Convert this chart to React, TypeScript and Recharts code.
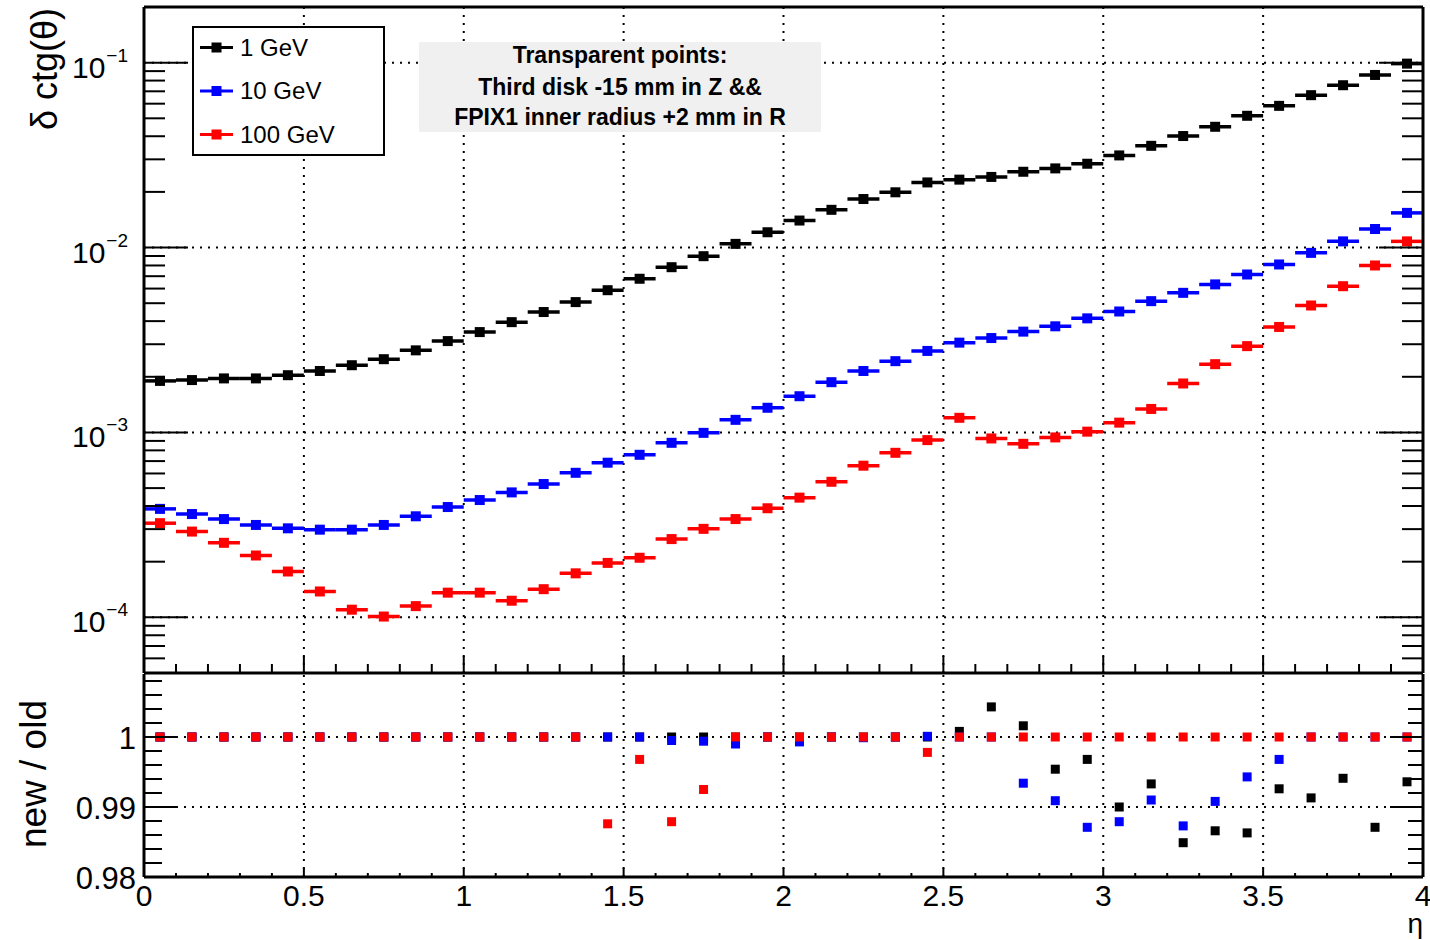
import React from 'react'
import { ComposedChart, Scatter, XAxis, YAxis, ErrorBar, ReferenceLine, Legend } from 'recharts'

const FONT = '"Liberation Sans", Arial, Helvetica, sans-serif'

// bin centres in eta (bins of 0.1 from 0 to 4)
const ETA = [
  0.05, 0.15, 0.25, 0.35, 0.45, 0.55, 0.65, 0.75, 0.85, 0.95,
  1.05, 1.15, 1.25, 1.35, 1.45, 1.55, 1.65, 1.75, 1.85, 1.95,
  2.05, 2.15, 2.25, 2.35, 2.45, 2.55, 2.65, 2.75, 2.85, 2.95,
  3.05, 3.15, 3.25, 3.35, 3.45, 3.55, 3.65, 3.75, 3.85, 3.95,
]
const BIN_HALF_WIDTH = 0.05

// resolution delta ctg(theta)
const RES_1GEV = [
  1.90e-3, 1.92e-3, 1.96e-3, 1.96e-3, 2.04e-3, 2.15e-3, 2.31e-3, 2.49e-3, 2.78e-3, 3.12e-3,
  3.49e-3, 3.95e-3, 4.48e-3, 5.07e-3, 5.88e-3, 6.78e-3, 7.83e-3, 8.98e-3, 1.047e-2, 1.21e-2,
  1.40e-2, 1.60e-2, 1.83e-2, 1.99e-2, 2.25e-2, 2.33e-2, 2.41e-2, 2.57e-2, 2.68e-2, 2.84e-2,
  3.15e-2, 3.55e-2, 4.01e-2, 4.50e-2, 5.16e-2, 5.84e-2, 6.67e-2, 7.55e-2, 8.58e-2, 9.88e-2,
]
const RES_10GEV = [
  3.86e-4, 3.62e-4, 3.40e-4, 3.16e-4, 3.03e-4, 2.98e-4, 2.98e-4, 3.16e-4, 3.52e-4, 3.95e-4,
  4.31e-4, 4.74e-4, 5.26e-4, 6.05e-4, 6.86e-4, 7.57e-4, 8.79e-4, 9.95e-4, 1.17e-3, 1.36e-3,
  1.57e-3, 1.87e-3, 2.15e-3, 2.43e-3, 2.76e-3, 3.06e-3, 3.24e-3, 3.51e-3, 3.75e-3, 4.14e-3,
  4.51e-3, 5.13e-3, 5.69e-3, 6.32e-3, 7.15e-3, 8.10e-3, 9.36e-3, 1.08e-2, 1.26e-2, 1.54e-2,
]
const RES_100GEV = [
  3.23e-4, 2.91e-4, 2.53e-4, 2.16e-4, 1.77e-4, 1.38e-4, 1.10e-4, 1.01e-4, 1.15e-4, 1.36e-4,
  1.36e-4, 1.23e-4, 1.42e-4, 1.73e-4, 1.97e-4, 2.10e-4, 2.65e-4, 3.01e-4, 3.40e-4, 3.89e-4,
  4.44e-4, 5.41e-4, 6.61e-4, 7.76e-4, 9.09e-4, 1.20e-3, 9.28e-4, 8.68e-4, 9.40e-4, 1.01e-3,
  1.13e-3, 1.34e-3, 1.84e-3, 2.34e-3, 2.93e-3, 3.72e-3, 4.86e-3, 6.18e-3, 8.00e-3, 1.08e-2,
]

// new / old ratio
const RATIO_1GEV = [
  1, 1, 1, 1, 1, 1, 1, 1, 1, 1,
  1, 1, 1, 1, 1, 1, 1, 1, 1, 1,
  1, 1, 1, 1, 1, 1.0008, 1.0043, 1.0016, 0.9954, 0.9968,
  0.99, 0.9933, 0.9849, 0.9866, 0.9863, 0.9926, 0.9913, 0.9941, 0.9871, 0.9936,
]
const RATIO_10GEV = [
  1, 1, 1, 1, 1, 1, 1, 1, 1, 1,
  1, 1, 1, 1, 1, 1, 0.9995, 0.9994, 0.999, 1,
  0.9993, 1, 0.9999, 1, 1.0001, 1, 1, 0.9934, 0.9909, 0.9871,
  0.9879, 0.991, 0.9873, 0.9908, 0.9943, 0.9968, 1, 1, 1, 1,
]
const RATIO_100GEV = [
  1, 1, 1, 1, 1, 1, 1, 1, 1, 1,
  1, 1, 1, 1, 0.9876, 0.9968, 0.9879, 0.9925, 1, 1,
  1, 1, 1, 1, 0.9978, 1, 1, 1, 1, 1,
  1, 1, 1, 1, 1, 1, 1, 1, 1, 1,
]

const SERIES_NAMES = ['1 GeV', '10 GeV', '100 GeV']
const SERIES_COLORS = ['#000000', '#0000ff', '#ff0000']

const X_TICKS = [
  0, 0.1, 0.2, 0.3, 0.4, 0.5, 0.6, 0.7, 0.8, 0.9,
  1, 1.1, 1.2, 1.3, 1.4, 1.5, 1.6, 1.7, 1.8, 1.9,
  2, 2.1, 2.2, 2.3, 2.4, 2.5, 2.6, 2.7, 2.8, 2.9,
  3, 3.1, 3.2, 3.3, 3.4, 3.5, 3.6, 3.7, 3.8, 3.9, 4,
]
const X_LABELS = ['0', '0.5', '1', '1.5', '2', '2.5', '3', '3.5', '4']
const X_GRID = [0.5, 1, 1.5, 2, 2.5, 3, 3.5]

const Y_DOMAIN: [number, number] = [5e-5, 0.2]
const Y_DECADES = [1e-5, 1e-4, 1e-3, 1e-2, 1e-1]
const Y_DECADE_EXPONENTS = ['\u22125', '\u22124', '\u22123', '\u22122', '\u22121']
const Y_GRID = [1e-4, 1e-3, 1e-2, 1e-1]

const RATIO_DOMAIN: [number, number] = [0.98, 1.009]
const RATIO_TICKS = [
  0.98, 0.982, 0.984, 0.986, 0.988, 0.99, 0.992, 0.994, 0.996, 0.998,
  1, 1.002, 1.004, 1.006, 1.008,
]
const RATIO_LABELS = ['0.98', '0.99', '1']
const RATIO_GRID = [0.99, 1]

const LOG_TICKS = Y_DECADES.flatMap((d) => [1, 2, 3, 4, 5, 6, 7, 8, 9].map((k) => k * d)).filter(
  (v) => v >= Y_DOMAIN[0] * 0.999 && v < Y_DOMAIN[1] * 0.999
)

const near = (a: number, b: number) => Math.abs(a - b) < 1e-9
const isDecade = (v: number) => Y_DECADES.some((d) => Math.abs(v / d - 1) < 1e-6)
const decadeExp = (v: number) => Y_DECADE_EXPONENTS[Y_DECADES.findIndex((d) => Math.abs(v / d - 1) < 1e-6)]
const xLabel = (v: number) => X_LABELS.find((s) => near(parseFloat(s), v))
const isXMajor = (v: number) => xLabel(v) !== undefined
const ratioLabel = (v: number) => RATIO_LABELS.find((s) => near(parseFloat(s), v))

const resData = [RES_1GEV, RES_10GEV, RES_100GEV].map((vals) =>
  ETA.map((x, i) => ({ x, y: vals[i], ex: BIN_HALF_WIDTH }))
)
const ratioData = [RATIO_1GEV, RATIO_10GEV, RATIO_100GEV].map((vals) => ETA.map((x, i) => ({ x, y: vals[i] })))

const TICK_W = 2

// ---- tick renderers (ROOT style: ticks drawn inside the frame) ----
const LogLeftTick = (props: any) => {
  const { x, y, payload } = props
  const major = isDecade(payload.value)
  return (
    <g>
      <line x1={x} x2={x + (major ? 44 : 21)} y1={y} y2={y} stroke="#000" strokeWidth={TICK_W} />
      {major && (
        <text x={x - 16} y={y + 15} textAnchor="end" fontSize={30} fontFamily={FONT} fill="#000">
          10
          <tspan dx={1} dy={-16} fontSize={19}>
            {decadeExp(payload.value)}
          </tspan>
        </text>
      )}
    </g>
  )
}

const LogRightTick = (props: any) => {
  const { x, y, payload } = props
  const major = isDecade(payload.value)
  return <line x1={x} x2={x - (major ? 44 : 21)} y1={y} y2={y} stroke="#000" strokeWidth={TICK_W} />
}

const TopPadBottomTick = (props: any) => {
  const { x, y, payload } = props
  return <line x1={x} x2={x} y1={y} y2={y - (isXMajor(payload.value) ? 17 : 9)} stroke="#000" strokeWidth={TICK_W} />
}

const TopPadTopTick = (props: any) => {
  const { x, y, payload } = props
  return <line x1={x} x2={x} y1={y} y2={y + (isXMajor(payload.value) ? 18 : 9)} stroke="#000" strokeWidth={TICK_W} />
}

const RatioLeftTick = (props: any) => {
  const { x, y, payload } = props
  const label = ratioLabel(payload.value)
  return (
    <g>
      <line x1={x} x2={x + (label ? 34 : 18)} y1={y} y2={y} stroke="#000" strokeWidth={TICK_W} />
      {label && (
        <text x={x - 8} y={y + 12} textAnchor="end" fontSize={31} fontFamily={FONT} fill="#000">
          {label}
        </text>
      )}
    </g>
  )
}

const RatioRightTick = (props: any) => {
  const { x, y, payload } = props
  const major = ratioLabel(payload.value) !== undefined
  return <line x1={x} x2={x - (major ? 33 : 15)} y1={y} y2={y} stroke="#000" strokeWidth={TICK_W} />
}

const RatioBottomTick = (props: any) => {
  const { x, y, payload } = props
  const label = xLabel(payload.value)
  return (
    <g>
      <line x1={x} x2={x} y1={y} y2={y - (label ? 9 : 4)} stroke="#000" strokeWidth={TICK_W} />
      {label && (
        <text x={x} y={y + 29} textAnchor="middle" fontSize={30} fontFamily={FONT} fill="#000">
          {label}
        </text>
      )}
    </g>
  )
}

const squareShape = (size: number, color: string) => (p: any) => (
  <rect x={p.cx - size / 2} y={p.cy - size / 2} width={size} height={size} fill={color} />
)

const LegendBox = () => (
  <svg width={193} height={130} style={{ display: 'block' }}>
    <rect x={1} y={1} width={191} height={128} fill="#fff" stroke="#000" strokeWidth={2} />
    {SERIES_NAMES.map((name, i) => {
      const cy = 21.5 + i * 43.5
      return (
        <g key={name}>
          <line x1={8} x2={41} y1={cy} y2={cy} stroke={SERIES_COLORS[i]} strokeWidth={3} />
          <rect x={19.5} y={cy - 5} width={10} height={10} fill={SERIES_COLORS[i]} />
          <text x={48} y={cy + 8} fontSize={24} fontFamily={FONT} fill="#000">
            {name}
          </text>
        </g>
      )
    })}
  </svg>
)

const dotted = { stroke: '#000', strokeWidth: 2, strokeDasharray: '2 6' }

const TopPad = () => (
  <ComposedChart width={1430} height={680} margin={{ top: 6, right: 6, bottom: 0, left: 8 }}>
    <XAxis
      dataKey="x"
      type="number"
      domain={[0, 4]}
      allowDataOverflow
      ticks={X_TICKS}
      interval={0}
      height={7}
      tickSize={0}
      tickMargin={0}
      tickLine={false}
      tick={TopPadBottomTick}
      axisLine={{ stroke: '#000', strokeWidth: 3 }}
    />
    <XAxis
      xAxisId="top"
      orientation="top"
      type="number"
      domain={[0, 4]}
      allowDataOverflow
      ticks={X_TICKS}
      interval={0}
      height={1}
      tickSize={0}
      tickMargin={0}
      tickLine={false}
      tick={TopPadTopTick}
      axisLine={{ stroke: '#000', strokeWidth: 3 }}
    />
    <YAxis
      dataKey="y"
      type="number"
      scale="log"
      domain={Y_DOMAIN}
      allowDataOverflow
      ticks={LOG_TICKS}
      interval={0}
      width={136}
      tickSize={0}
      tickMargin={0}
      tickLine={false}
      tick={LogLeftTick}
      axisLine={{ stroke: '#000', strokeWidth: 3 }}
    />
    <YAxis
      yAxisId="right"
      orientation="right"
      type="number"
      scale="log"
      domain={Y_DOMAIN}
      allowDataOverflow
      ticks={LOG_TICKS}
      interval={0}
      width={1}
      tickSize={0}
      tickMargin={0}
      tickLine={false}
      tick={LogRightTick}
      axisLine={{ stroke: '#000', strokeWidth: 3 }}
    />
    {Y_GRID.map((v) => (
      <ReferenceLine key={'hy' + v} y={v} {...dotted} />
    ))}
    {X_GRID.map((v) => (
      <ReferenceLine key={'vx' + v} x={v} {...dotted} />
    ))}
    {resData.map((data, i) => (
      <Scatter
        key={SERIES_NAMES[i]}
        name={SERIES_NAMES[i]}
        data={data}
        dataKey="y"
        fill={SERIES_COLORS[i]}
        shape={squareShape(10, SERIES_COLORS[i])}
        isAnimationActive={false}
      >
        <ErrorBar dataKey="ex" direction="x" width={0} stroke={SERIES_COLORS[i]} strokeWidth={3.5} isAnimationActive={false} />
      </Scatter>
    ))}
    <Legend
      layout="vertical"
      align="center"
      verticalAlign="middle"
      wrapperStyle={{ left: 192, top: 26, width: 193, height: 130 }}
      content={() => <LegendBox />}
    />
  </ComposedChart>
)

const RatioPad = () => (
  <ComposedChart width={1430} height={274} margin={{ top: 8, right: 6, bottom: 13, left: 8 }}>
    <XAxis
      dataKey="x"
      type="number"
      domain={[0, 4]}
      allowDataOverflow
      ticks={X_TICKS}
      interval={0}
      height={50}
      tickSize={0}
      tickMargin={0}
      tickLine={false}
      tick={RatioBottomTick}
      axisLine={{ stroke: '#000', strokeWidth: 3 }}
    />
    <YAxis
      dataKey="y"
      type="number"
      domain={RATIO_DOMAIN}
      allowDataOverflow
      ticks={RATIO_TICKS}
      interval={0}
      width={136}
      tickSize={0}
      tickMargin={0}
      tickLine={false}
      tick={RatioLeftTick}
      axisLine={{ stroke: '#000', strokeWidth: 3 }}
    />
    <YAxis
      yAxisId="right"
      orientation="right"
      type="number"
      domain={RATIO_DOMAIN}
      allowDataOverflow
      ticks={RATIO_TICKS}
      interval={0}
      width={1}
      tickSize={0}
      tickMargin={0}
      tickLine={false}
      tick={RatioRightTick}
      axisLine={{ stroke: '#000', strokeWidth: 3 }}
    />
    {RATIO_GRID.map((v) => (
      <ReferenceLine key={'hy' + v} y={v} {...dotted} />
    ))}
    {X_GRID.map((v) => (
      <ReferenceLine key={'vx' + v} x={v} {...dotted} />
    ))}
    {ratioData.map((data, i) => (
      <Scatter
        key={SERIES_NAMES[i]}
        name={SERIES_NAMES[i]}
        data={data}
        dataKey="y"
        fill={SERIES_COLORS[i]}
        shape={squareShape(9, SERIES_COLORS[i])}
        isAnimationActive={false}
      />
    ))}
  </ComposedChart>
)

export default function App() {
  return (
    <div style={{ position: 'absolute', left: 0, top: 0, width: 1430, height: 940, background: '#fff', fontFamily: FONT }}>
      <div style={{ position: 'absolute', left: 0, top: 0 }}>
        <TopPad />
      </div>
      <div style={{ position: 'absolute', left: 0, top: 666 }}>
        <RatioPad />
      </div>
      <svg
        width={1430}
        height={940}
        style={{ position: 'absolute', left: 0, top: 0, pointerEvents: 'none' }}
        fontFamily={FONT}
      >
        <rect x={419} y={42} width={402} height={90} fill="#f0f0f0" />
        <g fontSize={23} fontWeight="bold" textAnchor="middle" fill="#000">
          <text x={620} y={63}>Transparent points:</text>
          <text x={620} y={95}>Third disk -15 mm in Z &amp;&amp;</text>
          <text x={620} y={125}>FPIX1 inner radius +2 mm in R</text>
        </g>
        <text transform="translate(57, 8) rotate(-90)" textAnchor="end" fontSize={36} fill="#000">
          δ ctg(θ)
        </text>
        <text transform="translate(46, 700) rotate(-90)" textAnchor="end" fontSize={37} fill="#000">
          new / old
        </text>
        <text x={1423} y={933} textAnchor="end" fontSize={28} fill="#000">
          η
        </text>
      </svg>
    </div>
  )
}
